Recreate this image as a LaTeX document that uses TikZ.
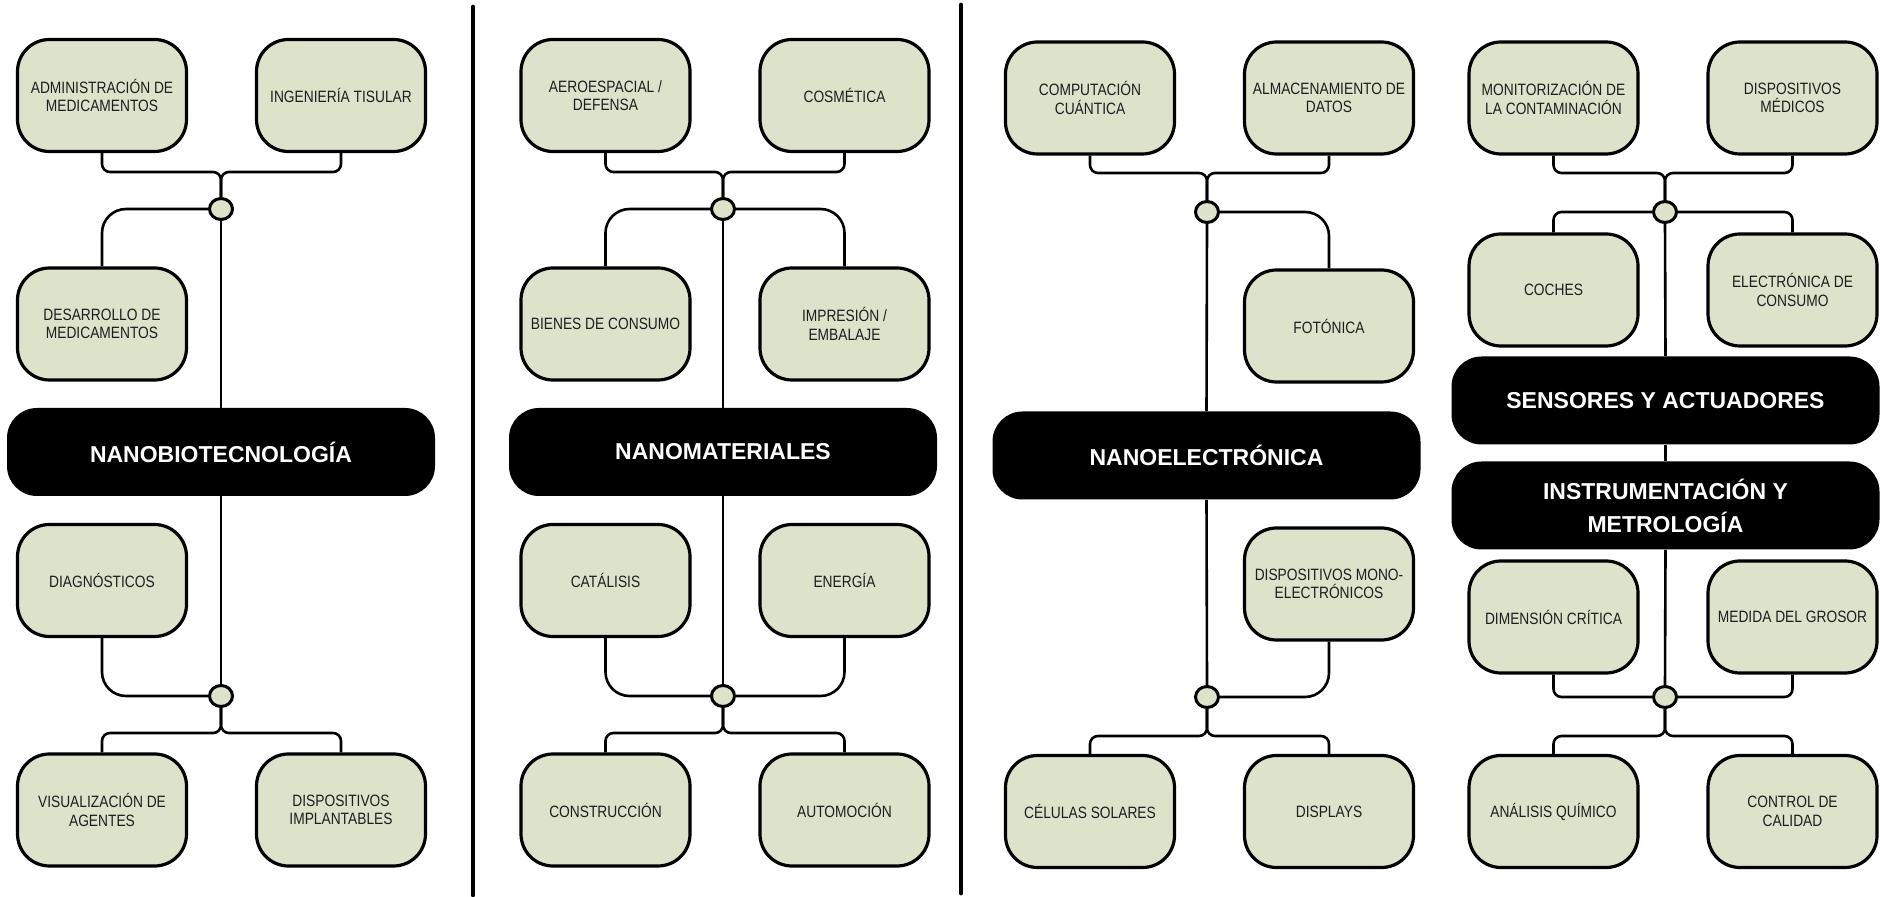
\documentclass[tikz,border=0pt]{standalone}
\usepackage{fontspec}
\setmainfont{Liberation Sans}
\newfontfamily\narrowfont{Liberation Sans}[FakeStretch=0.84]
\usetikzlibrary{shapes.geometric}
\definecolor{areagreen}{RGB}{221,226,203}
\definecolor{labelgrey}{RGB}{30,30,30}

\begin{document}
\begin{tikzpicture}[x=0.5pt, y=-0.5pt,
  area/.style={draw=black, line width=1.6pt, fill=areagreen, rounded corners=16pt, minimum width=84.5pt, minimum height=56pt, align=center, inner sep=2pt, text=labelgrey, font=\narrowfont\fontsize{8.2}{9.2}\selectfont},
  field/.style={fill=black, rounded corners=15pt, minimum width=214pt, minimum height=44pt, align=center, text=white, font=\bfseries\fontsize{11.5}{16.5}\selectfont},
  hub/.style={ellipse, draw=black, line width=1.5pt, fill=areagreen, minimum width=11.5pt, minimum height=10.5pt, inner sep=0pt},
  conn/.style={draw=black, line width=1.3pt, rounded corners=4pt},
  curvelink/.style={conn, rounded corners=12pt},
  divider/.style={line width=2.4pt, line cap=round}]
  \useasboundingbox (0,0) rectangle (1880,897);

  % Nanobiotecnologia
  \node[area] (admin) at (102,95.5) {ADMINISTRACIÓN DE\\MEDICAMENTOS};
  \node[area] (tisular) at (341,95.5) {INGENIERÍA TISULAR};
  \node[area] (desarrollo) at (102,324) {DESARROLLO DE\\MEDICAMENTOS};
  \node[field] (biotec) at (221,452) {NANOBIOTECNOLOGÍA};
  \node[area] (diagnostico) at (102,580.5) {DIAGNÓSTICOS};
  \node[area] (visual) at (102,810) {VISUALIZACIÓN DE\\AGENTES};
  \node[area] (implantes) at (341,810) {DISPOSITIVOS\\IMPLANTABLES};
  \node[hub] (bioup) at (221,209) {};
  \node[hub] (biodown) at (221,696) {};
  \coordinate (biosplitup) at (221,172);
  \coordinate (biosplitdown) at (221,733);
  \draw[conn] (admin.south) |- (biosplitup) -- (bioup.north);
  \draw[conn] (tisular.south) |- (biosplitup) -- (bioup.north);
  \draw[curvelink] (bioup.west) -| (desarrollo.north);
  \draw[conn] (bioup.south) -- (biotec.north);
  \draw[conn] (biotec.south) -- (biodown.north);
  \draw[curvelink] (diagnostico.south) |- (biodown.west);
  \draw[conn] (biodown.south) -- (biosplitdown) -| (visual.north);
  \draw[conn] (biodown.south) -- (biosplitdown) -| (implantes.north);

  \draw[divider] (473,7) -- (473,895);

  % Nanomateriales
  \node[area] (aero) at (605.5,95.5) {AEROESPACIAL /\\DEFENSA};
  \node[area] (cosmetica) at (844.5,95.5) {COSMÉTICA};
  \node[area] (bienes) at (605.5,324) {BIENES DE CONSUMO};
  \node[area] (impresion) at (844.5,324) {IMPRESIÓN /\\EMBALAJE};
  \node[field] (materiales) at (723,452) {NANOMATERIALES};
  \node[area] (catalisis) at (605.5,580.5) {CATÁLISIS};
  \node[area] (energia) at (844.5,580.5) {ENERGÍA};
  \node[area] (construccion) at (605.5,810) {CONSTRUCCIÓN};
  \node[area] (automocion) at (844.5,810) {AUTOMOCIÓN};
  \node[hub] (matup) at (723,209) {};
  \node[hub] (matdown) at (723,696) {};
  \coordinate (matsplitup) at (723,172);
  \coordinate (matsplitdown) at (723,733);
  \draw[conn] (aero.south) |- (matsplitup) -- (matup.north);
  \draw[conn] (cosmetica.south) |- (matsplitup) -- (matup.north);
  \draw[curvelink] (matup.west) -| (bienes.north);
  \draw[curvelink] (matup.east) -| (impresion.north);
  \draw[conn] (matup.south) -- (materiales.north);
  \draw[conn] (materiales.south) -- (matdown.north);
  \draw[curvelink] (catalisis.south) |- (matdown.west);
  \draw[curvelink] (energia.south) |- (matdown.east);
  \draw[conn] (matdown.south) -- (matsplitdown) -| (construccion.north);
  \draw[conn] (matdown.south) -- (matsplitdown) -| (automocion.north);

  \draw[divider] (961,5) -- (961,893);

  % Nanoelectronica
  \node[area] (cuantica) at (1090,98) {COMPUTACIÓN\\CUÁNTICA};
  \node[area] (datos) at (1329,98) {ALMACENAMIENTO DE\\DATOS};
  \node[area] (fotonica) at (1329,326) {FOTÓNICA};
  \node[field] (electronica) at (1206.5,455.5) {NANOELECTRÓNICA};
  \node[area] (mono) at (1329,584) {DISPOSITIVOS MONO-\\ELECTRÓNICOS};
  \node[area] (solares) at (1090,811.5) {CÉLULAS SOLARES};
  \node[area] (displays) at (1329,811.5) {DISPLAYS};
  \node[hub] (elecup) at (1207,212) {};
  \node[hub] (elecdown) at (1207,697) {};
  \coordinate (elecsplitup) at (1207,173);
  \coordinate (elecsplitdown) at (1207,736);
  \draw[conn] (cuantica.south) |- (elecsplitup) -- (elecup.north);
  \draw[conn] (datos.south) |- (elecsplitup) -- (elecup.north);
  \draw[curvelink] (elecup.east) -| (fotonica.north);
  \draw[conn] (elecup.south) -- (electronica.north);
  \draw[conn] (electronica.south) -- (elecdown.north);
  \draw[curvelink] (mono.south) |- (elecdown.east);
  \draw[conn] (elecdown.south) -- (elecsplitdown) -| (solares.north);
  \draw[conn] (elecdown.south) -- (elecsplitdown) -| (displays.north);

  % Sensores / Instrumentacion
  \node[area] (contaminacion) at (1553.5,98) {MONITORIZACIÓN DE\\LA CONTAMINACIÓN};
  \node[area] (medicos) at (1792.5,98) {DISPOSITIVOS\\MÉDICOS};
  \node[area] (coches) at (1553.5,290) {COCHES};
  \node[area] (consumo) at (1792.5,290) {ELECTRÓNICA DE\\CONSUMO};
  \node[field] (sensores) at (1665.5,400.5) {SENSORES Y ACTUADORES};
  \node[field] (instrumentacion) at (1665.5,505.5) {INSTRUMENTACIÓN Y\\METROLOGÍA};
  \node[area] (dimension) at (1553.5,617) {DIMENSIÓN CRÍTICA};
  \node[area] (grosor) at (1792.5,617) {MEDIDA DEL GROSOR};
  \node[area] (quimico) at (1553.5,811.5) {ANÁLISIS QUÍMICO};
  \node[area] (calidad) at (1792.5,811.5) {CONTROL DE\\CALIDAD};
  \node[hub] (sensup) at (1665,212) {};
  \node[hub] (sensdown) at (1665,697) {};
  \coordinate (senssplitup) at (1665,173);
  \coordinate (senssplitdown) at (1665,736);
  \draw[conn] (contaminacion.south) |- (senssplitup) -- (sensup.north);
  \draw[conn] (medicos.south) |- (senssplitup) -- (sensup.north);
  \draw[conn] (sensup.west) -| (coches.north);
  \draw[conn] (sensup.east) -| (consumo.north);
  \draw[conn] (sensup.south) -- (sensores.north);
  \draw[conn] (sensores.south) -- (instrumentacion.north);
  \draw[conn] (instrumentacion.south) -- (sensdown.north);
  \draw[conn] (dimension.south) |- (sensdown.west);
  \draw[conn] (grosor.south) |- (sensdown.east);
  \draw[conn] (sensdown.south) -- (senssplitdown) -| (quimico.north);
  \draw[conn] (sensdown.south) -- (senssplitdown) -| (calidad.north);
\end{tikzpicture}
\end{document}
